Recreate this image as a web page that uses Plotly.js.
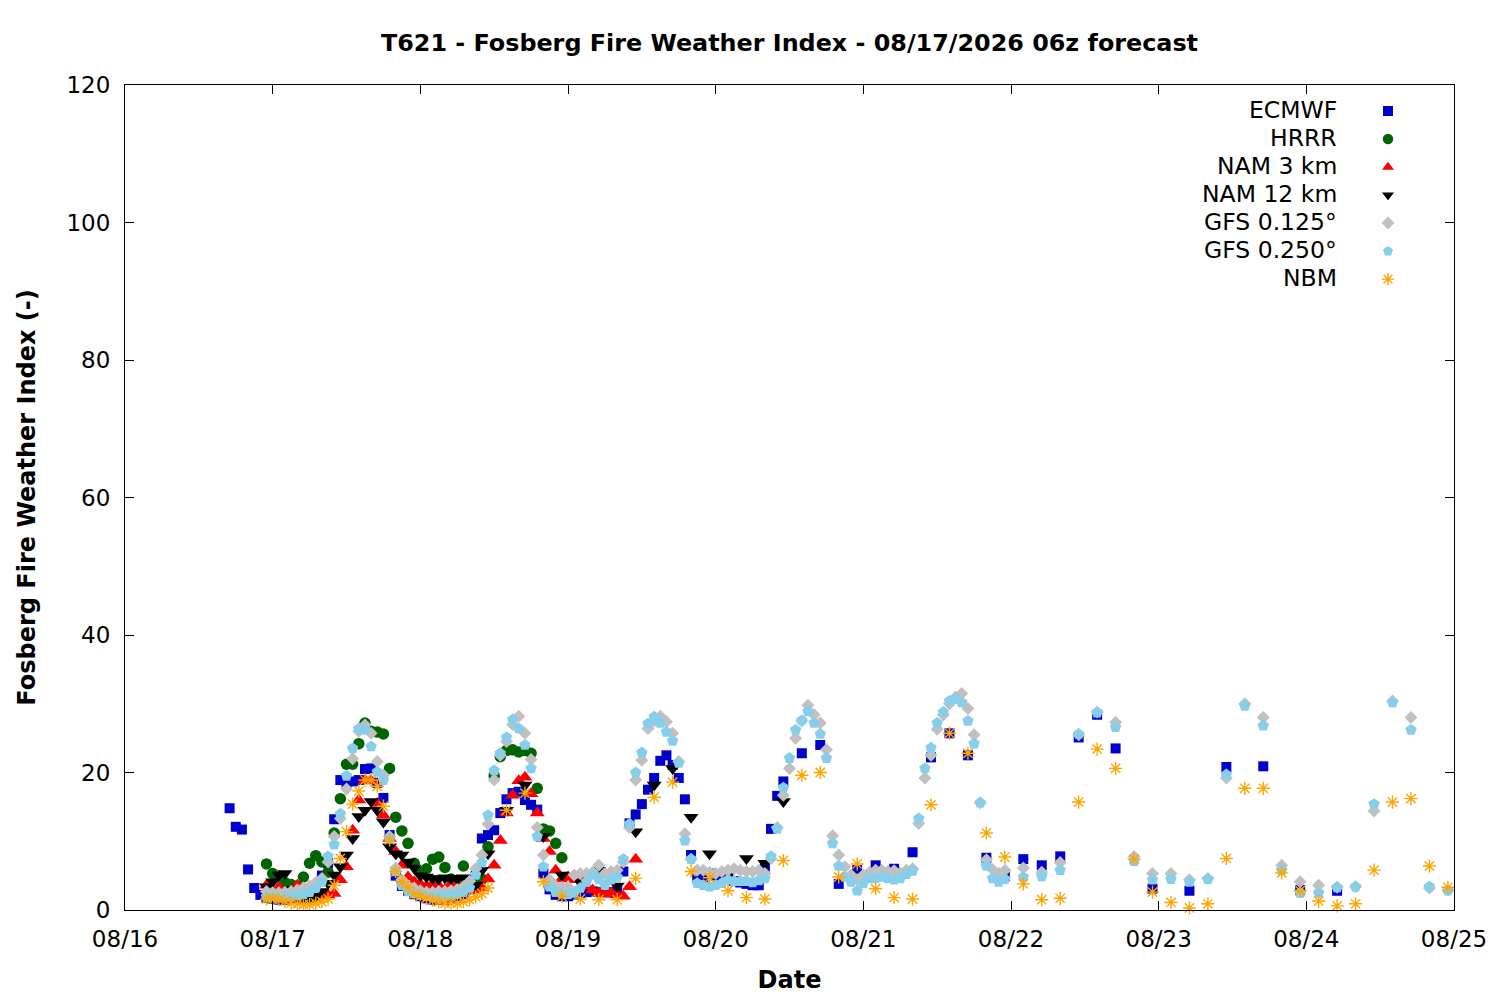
<!DOCTYPE html>
<html>
<head>
<meta charset="utf-8">
<script src="https://cdn.plot.ly/plotly-3.0.1.min.js"></script>
<style>
  html, body { margin: 0; padding: 0; background: #ffffff; }
  #chart { width: 1500px; height: 1000px; }
</style>
</head>
<body>
<div id="chart"></div>
<script>
// ---------------- DATA ----------------
// Valid time expressed as hours after 08/16/2026 00:00
const seriesNames = ["ECMWF", "HRRR", "NAM 3 km", "NAM 12 km", "GFS 0.125\u00b0", "GFS 0.250\u00b0", "NBM"];
const dayTickLabels = ["08/16","08/17","08/18","08/19","08/20","08/21","08/22","08/23","08/24","08/25"];

const ecmwfHours = [17,18,19,20,21,22,23,24,25,26,27,28,29,30,31,32,33,34,35,36,37,38,39,40,41,42,43,44,45,46,47,48,49,50,51,52,53,54,55,56,57,58,59,60,61,62,63,64,65,66,67,68,69,70,71,72,73,74,75,76,77,78,79,80,81,82,83,84,85,86,87,88,89,90,91,92,93,94,95,96,97,98,99,100,101,102,103,104,105,106,107,
  110,113,116,119,122,125,128,131,134,137,140,143,146,149,152,155,158,161,
  167,173,179,185,191,197];
const ecmwfValues = [14.8,12.1,11.7,5.9,3.2,2.2,1.8,1.6,1.5,1.5,
  1.6,1.8,2.0,2.5,3.5,5.0,6.8,13.2,18.9,18.5,
  18.7,18.9,20.5,20.6,18.5,16.3,10.9,5.0,3.5,2.8,
  2.3,2.0,1.7,1.5,1.5,1.5,1.6,1.8,2.2,3.0,
  5.0,10.4,10.9,11.6,14.1,16.1,17.0,17.2,16.0,15.3,
  14.6,5.3,3.0,2.2,2.0,2.0,2.2,2.5,2.6,2.7,
  2.6,2.6,2.6,2.7,5.6,12.6,13.9,15.4,17.5,19.2,
  21.7,22.5,21.1,19.2,16.1,8.0,4.5,4.5,5.3,5.0,
  4.8,4.5,4.2,4.0,3.8,3.6,3.6,6.3,11.8,16.6,
  18.7,
  22.8,24.0,3.8,5.8,6.5,6.0,8.4,22.2,25.7,22.5,7.6,4.9,7.4,6.5,7.8,25.1,28.4,23.5,
  3.1,2.8,20.8,20.9,2.9,2.8];

const hrrrHours = [23,24,25,26,27,28,29,30,31,32,33,34,35,36,37,38,39,40,41,42,43,44,45,46,47,48,49,50,51,52,53,54,55,56,57,58,59,60,61,62,63,64,65,66,67,68,69,70,71];
const hrrrValues = [6.7,5.3,4.8,4.0,3.7,3.5,4.8,6.8,7.9,7.0,
  5.5,11.2,16.2,21.2,21.2,24.2,27.2,26.0,25.9,25.6,
  20.6,13.5,11.5,9.7,6.8,5.5,6.0,7.4,7.7,6.2,
  4.5,4.0,6.4,4.0,3.5,4.5,9.2,19.5,22.3,23.2,
  23.3,23.0,23.2,22.8,17.7,11.8,11.5,9.7,7.6];

const nam3Hours = [23,24,25,26,27,28,29,30,31,32,33,34,35,36,37,38,39,40,41,42,43,44,45,46,47,48,49,50,51,52,53,54,55,56,57,58,59,60,61,62,63,64,65,66,67,68,69,70,71,72,73,74,75,76,77,78,79,80,81,82,83];
const nam3Values = [3.6,2.8,3.3,2.5,2.8,3.6,2.0,1.5,1.6,2.0,
  2.2,2.4,4.4,6.3,11.6,16.0,18.8,18.8,15.5,13.8,
  10.4,8.5,6.5,4.8,4.1,3.8,3.5,3.8,3.5,3.0,
  3.8,3.2,3.6,3.0,2.8,3.2,4.5,6.5,10.1,14.1,
  16.7,18.8,19.3,16.9,14.1,10.4,8.5,5.8,4.5,4.8,
  4.4,5.0,3.5,2.9,2.5,2.3,2.5,2.2,2.0,3.4,
  7.4];

const nam12Hours = [23,24,25,26,27,28,29,30,31,32,33,34,35,36,37,38,39,40,41,42,43,44,45,46,47,48,49,50,51,52,53,54,55,56,57,58,59,
  62,65,68,71,74,77,80,83,86,89,92,95,98,101,104,107];
const nam12Values = [3.4,4.1,5.1,5.3,3.0,2.0,1.5,1.5,2.0,2.7,
  3.9,5.1,6.3,8.0,10.4,13.6,14.5,15.8,14.5,12.8,
  9.2,8.2,8.0,7.0,6.1,5.0,4.8,4.6,4.5,4.7,
  4.6,4.6,4.7,4.6,3.6,5.8,8.2,
  14.5,18.2,10.7,5.1,4.0,5.8,3.5,11.4,18.2,20.6,13.5,8.2,5.0,7.5,6.8,15.8];

const gfsHours = [23,24,25,26,27,28,29,30,31,32,33,34,35,36,37,38,39,40,41,42,43,44,45,46,47,
  48,49,50,51,52,53,54,55,56,57,58,59,60,61,62,63,64,65,66,67,68,69,70,71,72,
  73,74,75,76,77,78,79,80,81,82,83,84,85,86,87,88,89,90,91,92,93,94,95,96,
  97,98,99,100,101,102,103,104,105,106,107,108,109,110,111,112,113,114,115,116,117,118,119,120,
  121,122,123,124,125,126,127,128,129,130,131,132,133,134,135,136,137,138,139,140,141,142,143,
  146,149,152,155,158,161,164,167,170,173,176,179,182,185,188,191,194,197,200,203,206,209,212,215];
const gfs0125Values = [2.7,2.5,2.5,2.6,2.7,2.9,3.2,3.5,4.0,4.6,7.0,10.7,13.3,17.6,22.0,26.0,26.9,25.7,21.6,19.6,10.7,6.1,4.4,3.5,3.2,
  2.8,2.6,2.6,2.7,2.7,2.8,3.0,3.4,4.2,6.0,8.0,12.5,18.9,22.5,24.5,27.0,28.2,25.7,21.9,12.0,8.0,4.4,3.5,3.3,3.4,
  5.1,5.3,5.3,5.5,6.5,5.3,5.6,5.8,7.0,12.0,18.9,21.8,26.4,27.5,28.2,27.4,25.7,21.6,11.1,7.4,5.8,5.8,5.5,5.3,
  5.6,5.8,6.0,5.8,5.6,5.6,5.8,5.3,7.5,12.0,16.7,20.6,25.0,27.5,29.8,28.4,27.2,23.3,10.8,8.0,6.3,5.1,4.4,5.1,
  5.5,5.8,5.8,5.6,5.7,5.4,5.8,6.0,12.6,19.2,22.5,26.3,28.4,30.0,31.0,31.5,29.3,25.5,15.6,7.3,5.9,5.3,5.8,
  6.1,5.5,6.9,25.5,28.8,27.3,7.8,5.3,5.3,4.4,4.6,19.2,30.0,28.0,6.5,4.1,3.6,3.3,3.4,14.4,30.4,28.0,3.2,2.9];
const gfs0250Values = [1.9,1.8,1.8,1.9,2.0,2.1,2.3,2.6,3.2,4.1,7.8,9.5,14.0,19.5,23.5,26.4,26.2,23.8,20.1,18.9,10.4,5.6,3.6,2.7,2.4,
  2.2,2.0,2.0,2.1,2.0,2.1,2.3,2.6,3.2,5.1,6.9,13.8,20.3,22.8,25.1,27.7,26.4,24.0,20.6,10.7,6.3,3.4,2.6,2.4,2.3,
  2.5,3.2,4.1,5.1,4.5,3.6,4.4,4.8,7.4,12.5,20.0,22.9,27.1,28.1,27.2,25.9,24.6,21.4,10.1,7.4,3.9,3.6,3.4,3.6,
  3.9,4.4,4.2,4.2,4.2,4.0,4.3,4.6,7.8,11.8,17.8,22.1,26.2,27.6,28.9,27.2,25.6,22.1,9.7,6.4,4.8,4.1,2.8,3.9,
  4.6,4.6,4.8,4.6,4.4,4.6,5.2,5.7,13.3,20.6,23.6,27.2,28.8,30.4,30.7,30.2,27.5,24.2,15.6,6.4,4.6,4.1,4.5,
  4.8,4.9,5.8,25.6,28.7,26.6,7.1,4.4,4.5,4.1,4.5,19.7,29.7,26.8,5.8,2.5,2.5,3.3,3.4,15.4,30.2,26.2,3.4,2.8];

const nbmHours = [23,24,25,26,27,28,29,30,31,32,33,34,35,36,37,38,39,40,41,42,43,44,45,46,47,48,49,50,51,52,53,54,55,56,57,58,59,
  62,65,68,71,74,77,80,83,86,89,92,95,98,101,104,107,110,113,116,119,122,125,128,131,134,137,140,143,146,149,
  152,155,158,161,164,167,170,173,176,179,182,185,188,191,194,197,200,203,206,209,212,215];
const nbmValues = [1.6,1.6,1.5,1.3,1.0,0.9,0.8,0.8,1.0,1.2,
  1.6,3.6,7.5,11.4,15.4,17.3,18.9,18.9,18.0,15.1,
  10.2,5.6,4.1,3.3,2.4,2.0,1.7,1.4,1.2,1.0,
  1.0,1.0,1.2,1.5,1.9,2.4,3.2,
  14.5,17.0,4.1,2.0,1.6,1.5,1.5,4.6,16.4,18.6,
  5.6,4.7,2.8,1.8,1.6,7.2,19.6,20.0,4.8,6.7,
  3.1,1.8,1.6,15.3,25.7,22.8,11.2,7.7,3.8,1.5,
  1.7,15.7,23.4,20.6,7.4,2.6,1.1,0.3,0.9,7.5,
  17.7,17.7,5.4,2.8,1.3,0.6,0.9,5.8,15.7,16.2,
  6.4,3.3];

// ---------------- PLOT ----------------
const BASE = Date.UTC(2026, 7, 16, 0, 0);
function toTime(h) {
  const d = new Date(BASE + h * 3600000);
  return d.toISOString().slice(0, 16).replace('T', ' ');
}

const FONT = 'DejaVu Sans, Liberation Sans, sans-serif';
const PL = 125, PR = 1454, PT = 85, PB = 910;
const px2x = p => (p - PL) / (PR - PL);
const px2y = p => (PB - p) / (PB - PT);

const styles = [
  {symbol: 'square', size: 10, color: '#0000cc'},
  {symbol: 'circle', size: 11.5, color: '#006400'},
  {symbol: 'triangle-up', size: 13, color: '#ff0000'},
  {symbol: 'triangle-down', size: 13, color: '#000000'},
  {symbol: 'diamond', size: 10, color: '#c0c0c0'},
  {symbol: 'pentagon', size: 12, color: '#87ceeb'},
  {symbol: 'asterisk-open', size: 11, color: '#ffa500'}
];

const seriesHours = [ecmwfHours, hrrrHours, nam3Hours, nam12Hours, gfsHours, gfsHours, nbmHours];
const seriesValues = [ecmwfValues, hrrrValues, nam3Values, nam12Values, gfs0125Values, gfs0250Values, nbmValues];

const traces = [];
seriesNames.forEach((name, i) => {
  const s = styles[i];
  traces.push({
    type: 'scatter', mode: 'markers', name: name,
    x: seriesHours[i].map(toTime), y: seriesValues[i],
    cliponaxis: false, showlegend: false,
    marker: {symbol: s.symbol, size: s.size, color: s.color,
             line: {width: s.symbol.indexOf('asterisk') === 0 ? 1.4 : 0, color: s.color}}
  });
});
// legend keys (symbols only; names drawn as right-aligned text on their left, gnuplot style)
seriesNames.forEach((name, i) => {
  const s = styles[i];
  traces.push({
    type: 'scatter', mode: 'markers', name: ' ', legendrank: i + 1,
    x: [null], y: [null], showlegend: true, hoverinfo: 'skip',
    marker: {symbol: s.symbol, size: Math.min(s.size, 10.5), color: s.color,
             line: {width: s.symbol.indexOf('asterisk') === 0 ? 1.4 : 0, color: s.color}}
  });
});

const legendRowsPx = [110, 138, 166, 194, 222, 250, 278];
const annotations = seriesNames.map((name, i) => ({
  xref: 'paper', yref: 'paper', x: px2x(1339), y: px2y(legendRowsPx[i]),
  xanchor: 'right', yanchor: 'middle', showarrow: false,
  text: name, font: {family: FONT, size: 23.5, color: '#000'}
}));

const tickVals = dayTickLabels.map((_, i) => toTime(24 * i));

const layout = {
  width: 1500, height: 1000,
  margin: {l: PL, r: 1500 - PR, t: PT, b: 1000 - PB, pad: 0},
  paper_bgcolor: '#ffffff', plot_bgcolor: '#ffffff',
  font: {family: FONT, size: 23, color: '#000'},
  title: {
    text: '<b>T621 - Fosberg Fire Weather Index - 08/17/2026 06z forecast</b>',
    font: {family: FONT, size: 23.85, color: '#000'},
    xref: 'paper', x: 0.5, xanchor: 'center',
    yref: 'container', y: 1 - 43 / 1000, yanchor: 'middle'
  },
  xaxis: {
    type: 'date', range: [toTime(0), toTime(216)],
    tickmode: 'array', tickvals: tickVals, ticktext: dayTickLabels,
    ticks: 'inside', ticklen: 9, tickwidth: 1, tickcolor: '#000',
    showline: true, linecolor: '#000', linewidth: 1, mirror: 'ticks',
    showgrid: false, zeroline: false,
    tickfont: {family: FONT, size: 23, color: '#000'},
    ticklabelstandoff: 8,
    title: {text: '<b>Date</b>', font: {family: FONT, size: 24, color: '#000'}, standoff: 20}
  },
  yaxis: {
    range: [0, 120], tickmode: 'linear', tick0: 0, dtick: 20,
    ticks: 'inside', ticklen: 9, tickwidth: 1, tickcolor: '#000',
    showline: true, linecolor: '#000', linewidth: 1, mirror: 'ticks',
    showgrid: false, zeroline: false,
    tickfont: {family: FONT, size: 23, color: '#000'},
    ticklabelstandoff: 9,
    title: {text: '<b>Fosberg Fire Weather Index (-)</b>', font: {family: FONT, size: 24, color: '#000'}, standoff: 24}
  },
  showlegend: true,
  legend: {
    x: px2x(1368), y: px2y(92), xanchor: 'left', yanchor: 'top',
    bgcolor: 'rgba(0,0,0,0)', borderwidth: 0,
    font: {family: FONT, size: 19.25, color: '#000'},
    tracegroupgap: 0, traceorder: 'normal'
  },
  annotations: annotations
};

Plotly.newPlot('chart', traces, layout, {displayModeBar: false, staticPlot: true});
</script>
</body>
</html>
